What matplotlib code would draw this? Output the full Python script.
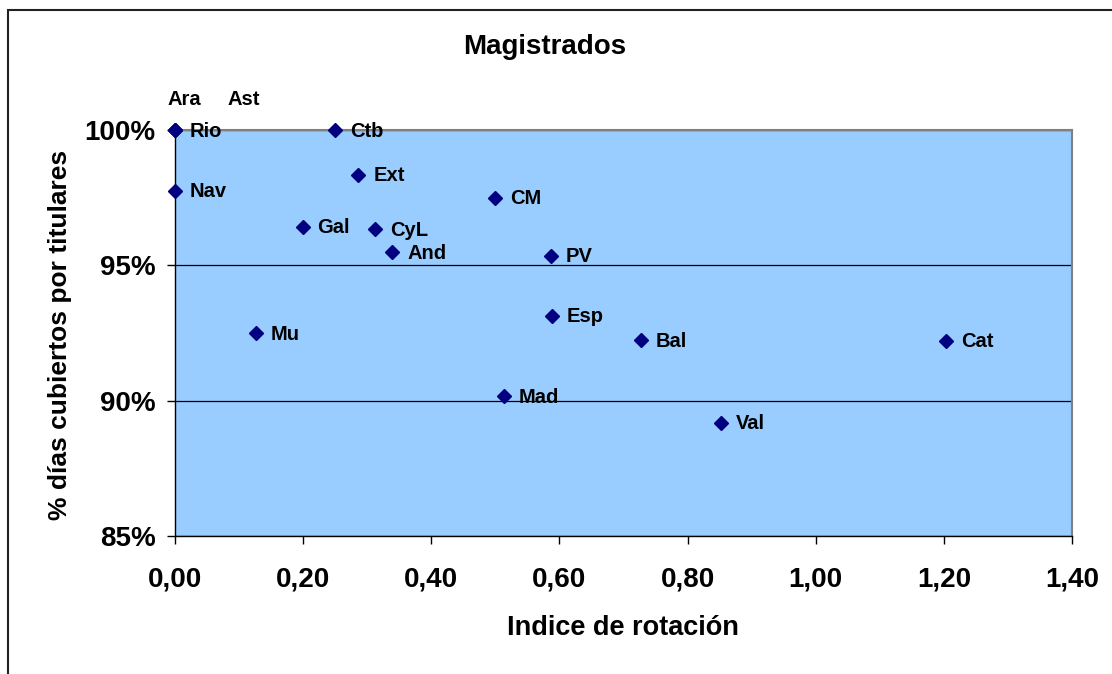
import matplotlib.pyplot as plt
from matplotlib.ticker import FuncFormatter
from matplotlib.patches import Rectangle

plt.rcParams['font.family'] = ['Liberation Sans', 'DejaVu Sans']

regions = ["Ara", "Ast", "Rio", "Ctb", "Nav", "Ext", "CM", "Gal", "CyL", "And",
           "PV", "Mu", "Esp", "Bal", "Cat", "Mad", "Val"]
rotation = [0.0, 0.0, 0.0, 0.250, 0.0, 0.286, 0.500, 0.199, 0.312, 0.339,
            0.587, 0.126, 0.588, 0.727, 1.203, 0.513, 0.852]
covered = [100.0, 100.0, 100.0, 100.0, 97.75, 98.34, 97.49, 96.42, 96.34, 95.49,
           95.35, 92.50, 93.13, 92.24, 92.21, 90.17, 89.18]

# label offsets in pixels (moved by hand for the overlapping points)
offsets = {"Ara": (-8, 31), "Ast": (52, 31)}

fig = plt.figure(figsize=(11.12, 6.74), dpi=100)
ax = fig.add_axes([175 / 1112, 1 - 536 / 674, (1072 - 175) / 1112, (536 - 130) / 674])

# outer chart frame
fig.patches.append(Rectangle((8 / 1112, -0.1), 1.2, 1 - 10 / 674 + 0.1,
                             transform=fig.transFigure, fill=False,
                             edgecolor="#222222", linewidth=1.5))

ax.set_facecolor("#99ccff")
ax.set_xlim(0, 1.4)
ax.set_ylim(85, 100)
ax.set_yticks([85, 90, 95, 100])
ax.set_xticks([0, 0.2, 0.4, 0.6, 0.8, 1.0, 1.2, 1.4])
ax.yaxis.grid(True, color="black", linewidth=0.9)
ax.set_axisbelow(True)

for side in ["top", "right"]:
    ax.spines[side].set_color("#808080")
    ax.spines[side].set_linewidth(1.5)
for side in ["left", "bottom"]:
    ax.spines[side].set_color("black")
    ax.spines[side].set_linewidth(1.0)

ax.yaxis.set_major_formatter(FuncFormatter(lambda v, p: f"{v:.0f}%"))
ax.xaxis.set_major_formatter(FuncFormatter(lambda v, p: f"{v:.2f}".replace(".", ",")))
ax.tick_params(axis="both", direction="out", length=6, width=1, labelsize=20)
ax.tick_params(axis="x", pad=16)
ax.tick_params(axis="y", pad=8)
for lab in ax.get_xticklabels() + ax.get_yticklabels():
    lab.set_fontweight("bold")

ax.plot(rotation, covered, linestyle="none", marker="D", markersize=7,
        color="#000080", clip_on=False, zorder=5)

for name, x, y in zip(regions, rotation, covered):
    dx, dy = offsets.get(name, (15, -1))
    ax.annotate(name, (x, y), xytext=(dx, dy), textcoords="offset pixels",
                fontsize=14.5, fontweight="bold", ha="left", va="center",
                annotation_clip=False)

fig.text(545 / 1112, 1 - 47 / 674, "Magistrados", ha="center", va="center",
         fontsize=20, fontweight="bold")
fig.text(623 / 1112, 1 - 628 / 674, "Indice de rotación", ha="center", va="center",
         fontsize=19.5, fontweight="bold")
fig.text(60 / 1112, 1 - 335 / 674, "% días cubiertos por titulares", ha="center",
         va="center", rotation=90, fontsize=19, fontweight="bold")

fig.savefig("out.png", dpi=100)
